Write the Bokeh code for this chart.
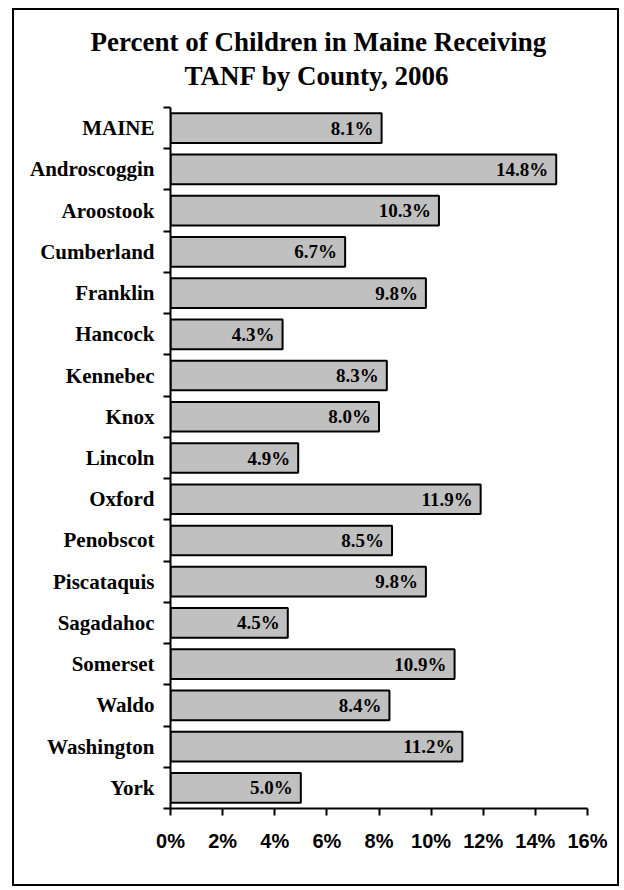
from bokeh.plotting import figure
from bokeh.models import ColumnDataSource, FixedTicker, Range1d, PrintfTickFormatter, Title, LabelSet
from bokeh.embed import file_html
from bokeh.resources import INLINE

categories = ["MAINE", "Androscoggin", "Aroostook", "Cumberland", "Franklin", "Hancock",
              "Kennebec", "Knox", "Lincoln", "Oxford", "Penobscot", "Piscataquis",
              "Sagadahoc", "Somerset", "Waldo", "Washington", "York"]
values = [8.1, 14.8, 10.3, 6.7, 9.8, 4.3, 8.3, 8.0, 4.9, 11.9, 8.5, 9.8, 4.5, 10.9, 8.4, 11.2, 5.0]
x_ticks = [0, 2, 4, 6, 8, 10, 12, 14, 16]
title_line1 = "Percent of Children in Maine Receiving"
title_line2 = "TANF by County, 2006"

n = len(categories)
ypos = [n - 1 - i for i in range(n)]
labels = ["%.1f%%" % v for v in values]
src = ColumnDataSource(dict(y=ypos, v=values, lab=labels, name=categories))

p = figure(width=607, height=878, output_backend="svg", toolbar_location=None,
           x_range=Range1d(0, 16), y_range=Range1d(-0.5, n - 0.5),
           min_border_left=156, min_border_right=34, min_border_top=97, min_border_bottom=80)
p.styles = {"border": "2px solid black", "margin-left": "12px", "margin-top": "8px"}
p.outline_line_color = None
p.xgrid.visible = False
p.ygrid.visible = False

t2 = Title(text=title_line2, align="left", text_font="Liberation Serif", text_font_style="bold",
           text_font_size="27px", text_color="black", offset=14, standoff=33)
t1 = Title(text=title_line1, align="left", text_font="Liberation Serif", text_font_style="bold",
           text_font_size="27px", text_color="black", offset=-80, standoff=-29)
p.add_layout(t2, "above")
p.add_layout(t1, "above")

p.hbar(y="y", right="v", left=0, height=0.72, source=src, fill_color="#C0C0C0",
       line_color="black", line_width=2)

lbl = LabelSet(x="v", y="y", text="lab", source=src, x_offset=-8, text_align="right",
               text_baseline="middle", text_font="Liberation Serif", text_font_style="bold",
               text_font_size="19px", text_color="black")
p.add_layout(lbl)

# x axis
xa = p.xaxis[0]
xa.ticker = FixedTicker(ticks=x_ticks)
xa.formatter = PrintfTickFormatter(format="%d%%")
xa.major_label_text_font = "Liberation Sans"
xa.major_label_text_font_style = "bold"
xa.major_label_text_font_size = "20px"
xa.major_label_text_color = "black"
xa.major_tick_out = 7
xa.major_tick_in = 0
xa.minor_tick_out = 0
xa.minor_tick_in = 0
xa.axis_line_width = 2
xa.major_tick_line_width = 2
xa.major_label_standoff = 14

# y axis
ya = p.yaxis[0]
ya.ticker = FixedTicker(ticks=ypos, minor_ticks=[k - 0.5 for k in range(n + 1)])
ya.major_label_overrides = {y: c for y, c in zip(ypos, categories)}
ya.major_label_text_font = "Liberation Serif"
ya.major_label_text_font_style = "bold"
ya.major_label_text_font_size = "21px"
ya.major_label_text_color = "black"
ya.major_tick_out = 0
ya.major_tick_in = 0
ya.minor_tick_out = 7
ya.minor_tick_in = 0
ya.minor_tick_line_width = 2
ya.minor_tick_line_color = "black"
ya.axis_line_width = 2
ya.major_label_standoff = 9

open("out.html", "w").write(file_html(p, INLINE))
